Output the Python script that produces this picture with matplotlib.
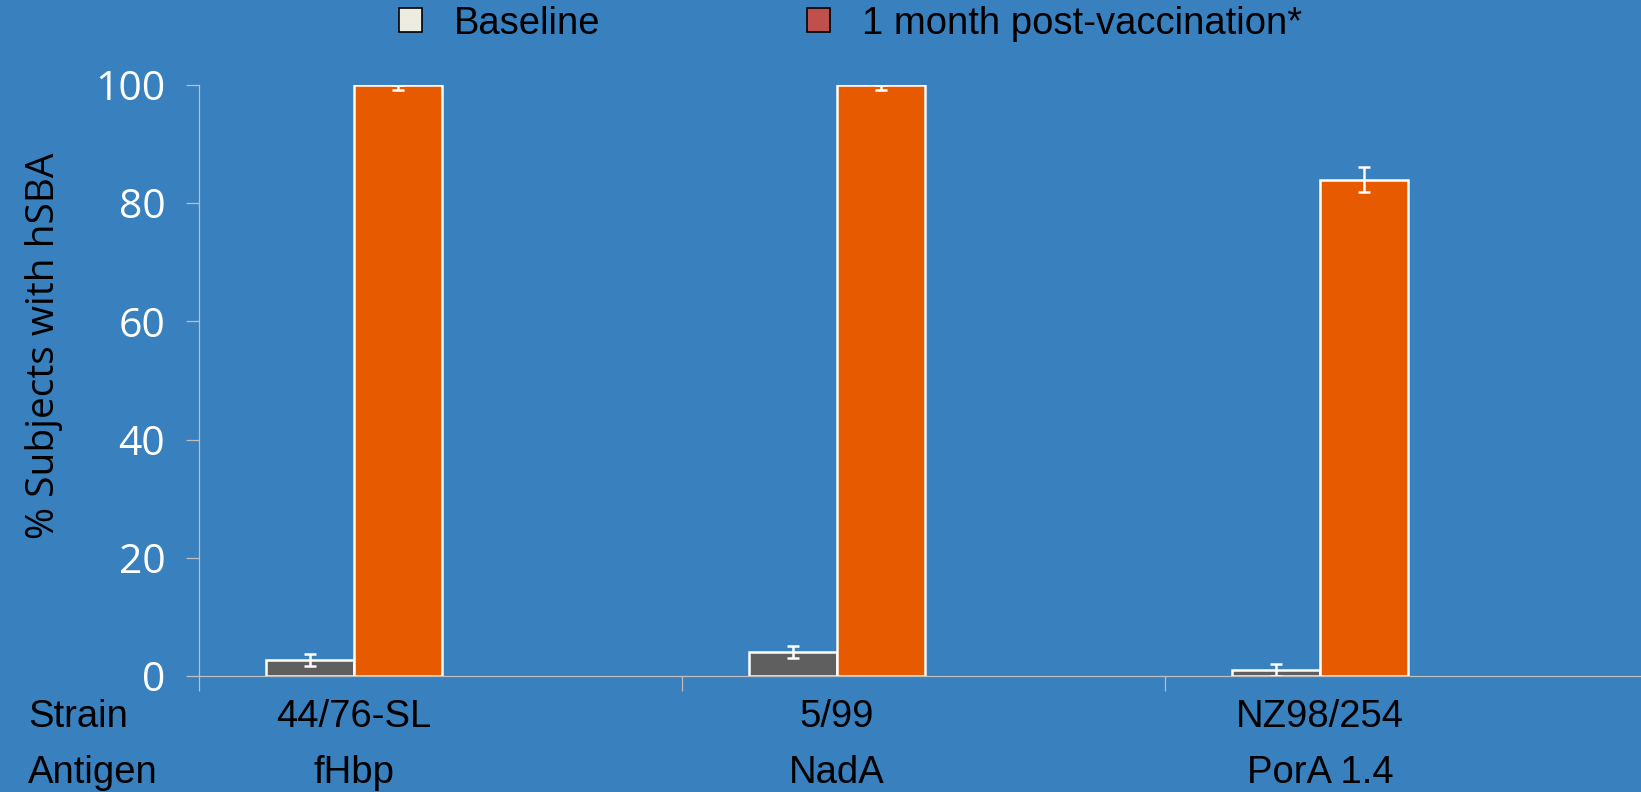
import numpy as np
import matplotlib.pyplot as plt
from matplotlib.patches import Patch

# data
strains = ['44/76-SL', '5/99', 'NZ98/254']
antigens = ['fHbp', 'NadA', 'PorA 1.4']
baseline = [2.7, 4.0, 1.0]
baseline_err = [1.0, 1.0, 1.0]
post_vacc = [100, 100, 84]
post_err_low = [0.8, 0.8, 2.1]
post_err_high = [0.0, 0.0, 2.2]

bg = '#3880BE'
axcol = '#BFBFBF'

plt.rcParams['font.family'] = ['Liberation Sans', 'DejaVu Sans']

fig = plt.figure(figsize=(16.41, 7.92), dpi=100, facecolor=bg)
ax = fig.add_axes([0.1215, 0.1465, 0.883, 0.7462], facecolor=bg)

x = np.arange(len(strains))
w = 0.183
ax.bar(x + 0.229, baseline, w, color='#5F5F5F', edgecolor='white', linewidth=1.8,
       yerr=[baseline_err, baseline_err], capsize=4.5,
       error_kw=dict(ecolor='white', elinewidth=1.8, capthick=1.8))
ax.bar(x + 0.411, post_vacc, w, color='#E85A00', edgecolor='white', linewidth=1.8,
       yerr=[post_err_low, post_err_high], capsize=4.5,
       error_kw=dict(ecolor='white', elinewidth=1.8, capthick=1.8))

ax.set_xlim(0, 3)
ax.set_ylim(0, 100)

for s in ['top', 'right']:
    ax.spines[s].set_visible(False)
for s in ['left', 'bottom']:
    ax.spines[s].set_color(axcol)
    ax.spines[s].set_linewidth(0.9)

ax.set_yticks([0, 20, 40, 60, 80, 100])
ax.tick_params(axis='y', colors=axcol, length=9.5, width=0.9, pad=15,
               labelcolor='white', labelsize=29.5)
for lb in ax.get_yticklabels():
    lb.set_family('Open Sans')
ax.set_xticks([0, 1, 2, 3])
ax.set_xticklabels([])
ax.tick_params(axis='x', colors=axcol, length=11, width=0.9)

ax.set_ylabel('% Subjects with hSBA', fontsize=28, family='Open Sans', color='black',
              labelpad=0)
ax.yaxis.set_label_coords(-0.094, 0.558)

# strain / antigen rows below the axis (baselines in pixels from the top)
y_strain = 1 - 727 / 792
y_antigen = 1 - 783 / 792
for i in range(len(strains)):
    xf = ax.transData.transform((i + 0.32, 0))[0] / fig.bbox.width
    fig.text(xf, y_strain, strains[i], ha='center', va='baseline',
             fontsize=27.5, color='black')
    fig.text(xf, y_antigen, antigens[i], ha='center', va='baseline',
             fontsize=27.5, color='black')
fig.text(0.017, y_strain, 'Strain', ha='left', va='baseline', fontsize=27.5)
fig.text(0.017, y_antigen, 'Antigen', ha='left', va='baseline', fontsize=27.5)

handles = [Patch(facecolor='#EEEBE0', edgecolor='black', linewidth=1.2),
           Patch(facecolor='#C0504D', edgecolor='black', linewidth=1.2)]
fig.legend(handles, ['Baseline', '1 month post-vaccination*'], ncol=2,
           loc='center left', bbox_to_anchor=(0.243, 0.97), frameon=False,
           fontsize=27.5, handlelength=0.6, handleheight=0.6, handletextpad=0.85,
           columnspacing=5.4, borderpad=0, borderaxespad=0)

fig.savefig('out.png', dpi=100, facecolor=bg)
